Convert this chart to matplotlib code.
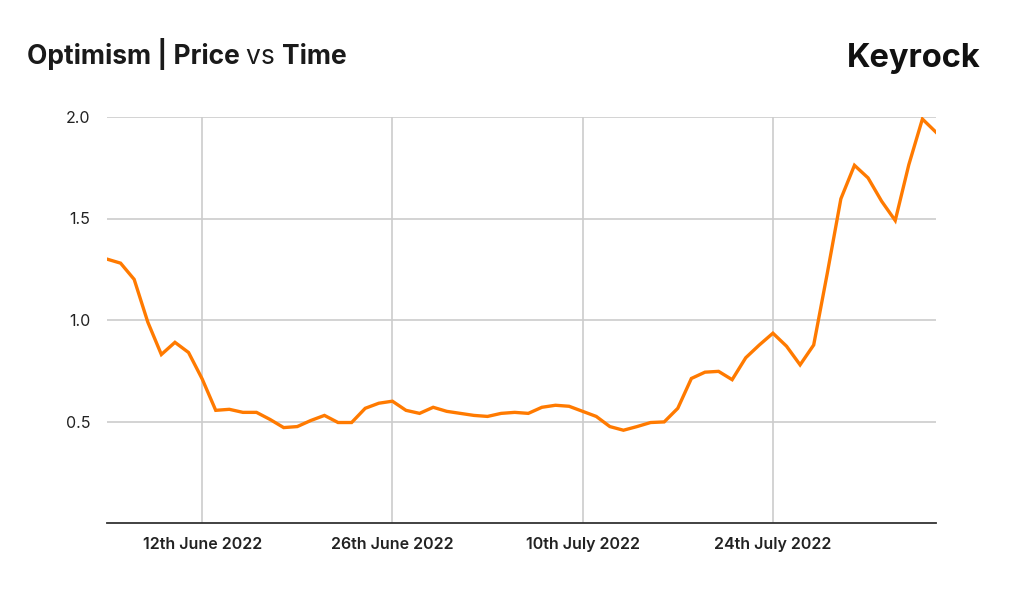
import matplotlib
matplotlib.use('Agg')
import matplotlib.pyplot as plt
import matplotlib.dates as mdates
import numpy as np
import pandas as pd

plt.rcParams['font.family'] = ['Inter', 'DejaVu Sans']

dates = pd.date_range('2022-06-05', '2022-08-05', freq='D')
price = [1.30, 1.28, 1.20, 0.99, 0.83, 0.89, 0.84, 0.71, 0.555, 0.56,
         0.545, 0.545, 0.51, 0.47, 0.475, 0.505, 0.53, 0.495, 0.495, 0.565,
         0.59, 0.60, 0.555, 0.54, 0.57, 0.55,
         0.54, 0.53, 0.525, 0.54, 0.545, 0.54, 0.57, 0.58, 0.575, 0.55,
         0.525, 0.475, 0.457, 0.475, 0.495, 0.498, 0.565, 0.712, 0.743, 0.747,
         0.706, 0.814, 0.877, 0.935, 0.871, 0.779, 0.877, 1.23, 1.597, 1.762,
         1.70,
         1.585, 1.49, 1.765, 1.99, 1.925]
xtick_dates = pd.to_datetime(['2022-06-12', '2022-06-26', '2022-07-10', '2022-07-24'])
xtick_labels = ['12th June 2022', '26th June 2022', '10th July 2022', '24th July 2022']
ytick_vals = [0.5, 1.0, 1.5, 2.0]

fig = plt.figure(figsize=(10.24, 5.95), dpi=100)
ax = fig.add_axes([107/1024, 1-523/595, (936-107)/1024, (523-117)/595])

ax.plot(dates, price, color='#ff7a00', lw=2.4, solid_joinstyle='miter', zorder=3)

ax.set_xlim(dates[0], dates[-1])
ax.set_ylim(0, 2.0)
ax.set_xticks(xtick_dates)
ax.set_xticklabels(xtick_labels, fontsize=11.5, fontweight='semibold', color='#222222')
ax.set_yticks(ytick_vals)
ax.set_yticklabels(['%.1f' % v for v in ytick_vals], fontsize=11.5, color='#222222')
ax.tick_params(length=0, pad=10)
ax.tick_params(axis='y', pad=12)
ax.grid(True, color='#cccccc', lw=1.2)
for s in ['top', 'right', 'left']:
    ax.spines[s].set_visible(False)
ax.spines['bottom'].set_color('#333333')
ax.spines['bottom'].set_linewidth(1.3)

# title with mixed weights, placed piece by piece
fig.canvas.draw()
r = fig.canvas.get_renderer()
x0 = 27/1024
ty = 1-64/595
parts = [('Optimism | Price ', 'bold'), ('vs ', 'normal'), ('Time', 'bold')]
for txt, w in parts:
    t = fig.text(x0, ty, txt, fontsize=19, fontweight=w, color='#1a1a1a', va='baseline', ha='left')
    bb = t.get_window_extent(renderer=r)
    x0 += bb.width / 1024

fig.text(981/1024, 1-67/595, 'Keyrock', fontsize=23.5, fontweight='bold', color='#111111',
         ha='right', va='baseline')

fig.savefig('out.png', dpi=100, facecolor='white')
